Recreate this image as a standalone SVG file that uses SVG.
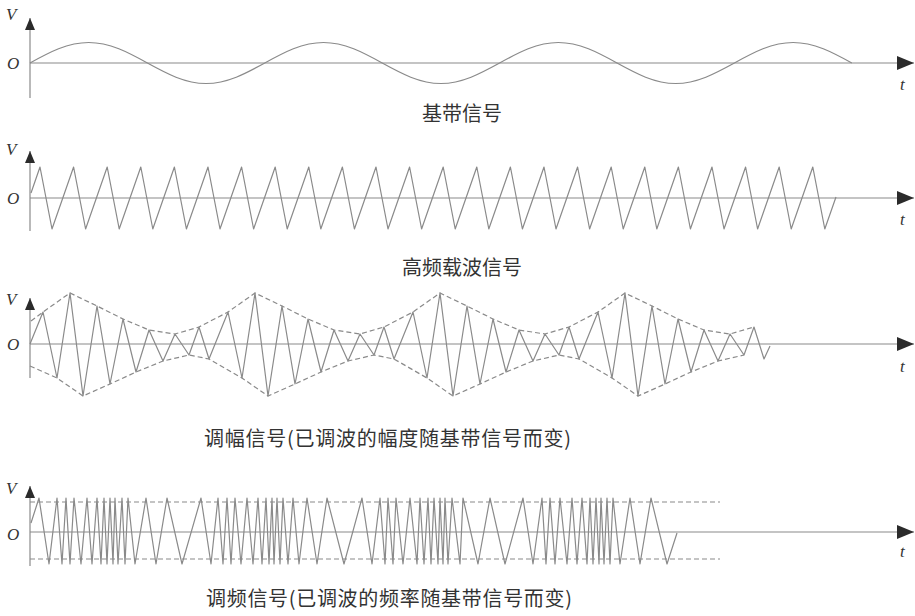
<svg xmlns="http://www.w3.org/2000/svg" width="915" height="616" viewBox="0 0 915 616">
<style>
.wave{fill:none;stroke:#8a8a8a;stroke-width:1.2;stroke-linejoin:round}
.axis{fill:none;stroke:#8a8a8a;stroke-width:1.2}
.env{fill:none;stroke:#8a8a8a;stroke-width:1.2;stroke-dasharray:5 3}
.lbl{font-family:"Liberation Serif",serif;font-style:italic;font-size:17px;fill:#333}
.cap{font-family:"Noto Sans CJK SC","Noto Sans CJK JP",sans-serif;font-size:20px;fill:#333}
</style>
<defs>
<marker id="arrowH" viewBox="0 0 17 14" markerWidth="17" markerHeight="14" refX="17" refY="7" orient="auto" markerUnits="userSpaceOnUse"><path d="M0,0 L17,7 L0,14 z" fill="#2b2b2b"/></marker>
<marker id="arrowV" viewBox="0 0 12 10" markerWidth="12" markerHeight="10" refX="12" refY="5" orient="auto" markerUnits="userSpaceOnUse"><path d="M0,0 L12,5 L0,10 z" fill="#2b2b2b"/></marker>
</defs>
<rect width="915" height="616" fill="#ffffff"/>

<g id="baseband">
<line class="axis" x1="30" y1="98" x2="30" y2="18" marker-end="url(#arrowV)"/>
<line class="axis" x1="30" y1="63" x2="914" y2="63" marker-end="url(#arrowH)"/>
<path class="wave" d="M30,63 c19.14,-10.5 37.46,-20.5 58.7,-20.5 c21.24,0 39.56,10 58.7,20.5 c19.14,10.5 37.46,20.5 58.7,20.5 c21.24,0 39.56,-10 58.7,-20.5 c19.14,-10.5 37.46,-20.5 58.7,-20.5 c21.24,0 39.56,10 58.7,20.5 c19.14,10.5 37.46,20.5 58.7,20.5 c21.24,0 39.56,-10 58.7,-20.5 c19.14,-10.5 37.46,-20.5 58.7,-20.5 c21.24,0 39.56,10 58.7,20.5 c19.14,10.5 37.46,20.5 58.7,20.5 c21.24,0 39.56,-10 58.7,-20.5 c19.14,-10.5 37.46,-20.5 58.7,-20.5 c21.24,0 39.56,10 58.7,20.5"/>
<text class="lbl" x="6" y="20">V</text>
<text class="lbl" x="7" y="69">O</text>
<text class="lbl" x="900" y="90">t</text>
<text class="cap" x="422" y="121">基带信号</text>
</g>

<g id="carrier">
<line class="axis" x1="30" y1="231" x2="30" y2="151" marker-end="url(#arrowV)"/>
<line class="axis" x1="30" y1="198" x2="914" y2="198" marker-end="url(#arrowH)"/>
<path class="wave" d="M31,193 L40,167 l12,62 l21.6,-62 l12,62 l21.6,-62 l12,62 l21.6,-62 l12,62 l21.6,-62 l12,62 l21.6,-62 l12,62 l21.6,-62 l12,62 l21.6,-62 l12,62 l21.6,-62 l12,62 l21.6,-62 l12,62 l21.6,-62 l12,62 l21.6,-62 l12,62 l21.6,-62 l12,62 l21.6,-62 l12,62 l21.6,-62 l12,62 l21.6,-62 l12,62 l21.6,-62 l12,62 l21.6,-62 l12,62 l21.6,-62 l12,62 l21.6,-62 l12,62 l21.6,-62 l12,62 l21.6,-62 l12,62 l21.6,-62 l12,62 l21.6,-62 l12,62 l11.2,-32"/>
<text class="lbl" x="6" y="155">V</text>
<text class="lbl" x="7" y="204">O</text>
<text class="lbl" x="900" y="225">t</text>
<text class="cap" x="402" y="275">高频载波信号</text>
</g>

<g id="am">
<line class="axis" x1="30" y1="378" x2="30" y2="298" marker-end="url(#arrowV)"/>
<line class="axis" x1="30" y1="344" x2="914" y2="344" marker-end="url(#arrowH)"/>
<polyline class="env" points="31,321 43,312 70,293 97,306 123,319 149,330 175,334 199,327 228,312 255,293 282,306 308,319 334,330 360,334 384,327 413,312 440,293 467,306 493,319 519,330 545,334 569,327 598,312 625,293 652,306 678,319 704,330 730,334 754,327"/>
<polyline class="env" points="30,366 57,378 83,396 110,384 136,372 163,361 189,355 209,359 242,378 268,396 295,384 321,372 348,361 374,355 394,359 427,378 453,396 480,384 506,372 533,361 559,355 579,359 612,378 638,396 665,384 691,372 718,361 744,355"/>
<polyline class="wave" points="30,344 43,312 57,378 70,293 83,396 97,306 110,384 123,319 136,372 149,330 163,361 175,334 189,355 199,327 209,359 228,312 242,378 255,293 268,396 282,306 295,384 308,319 321,372 334,330 348,361 360,334 374,355 384,327 394,359 413,312 427,378 440,293 453,396 467,306 480,384 493,319 506,372 519,330 533,361 545,334 559,355 569,327 579,359 598,312 612,378 625,293 638,396 652,306 665,384 678,319 691,372 704,330 718,361 730,334 744,355 754,327 764,359 770,346"/>
<text class="lbl" x="6" y="305">V</text>
<text class="lbl" x="7" y="350">O</text>
<text class="lbl" x="900" y="372">t</text>
<text class="cap" x="204" y="446" textLength="367" lengthAdjust="spacing">调幅信号(已调波的幅度随基带信号而变)</text>
</g>

<g id="fm">
<line class="axis" x1="30" y1="566" x2="30" y2="486" marker-end="url(#arrowV)"/>
<line class="axis" x1="30" y1="532" x2="914" y2="532" marker-end="url(#arrowH)"/>
<line class="env" x1="30" y1="502" x2="720" y2="502"/>
<line class="env" x1="30" y1="559" x2="720" y2="559"/>
<polyline class="wave" points="31,523 39,498 49,564 57,498 62,564 66,498 70,564 74,498 81,564 87,498 92,564 97,498 101,564 104,498 107,564 110,498 113,564 115,498 118,564 122,498 125,564 128,498 135,564 146,498 156,564 167,498 182,564 201,498 211,564 218,498 223,564 227,498 231,564 235,498 241,564 247,498 253,564 258,498 262,564 266,498 269,564 272,498 274,564 277,498 280,564 283,498 288,564 293,498 299,564 307,498 317,564 327,498 344,564 362,498 372,564 380,498 385,564 388,498 393,564 396,498 403,564 410,498 417,564 420,498 424,564 428,498 431,564 434,498 438,564 440,498 443,564 445,498 448,564 452,498 460,564 463,498 478,564 490,498 505,564 523,498 533,564 542,498 546,564 550,498 555,564 560,498 567,564 572,498 577,564 582,498 587,564 590,498 593,564 596,498 599,564 601,498 604,564 607,498 610,564 613,498 620,564 630,498 640,564 651,498 667,564 677,533"/>
<text class="lbl" x="6" y="494">V</text>
<text class="lbl" x="7" y="540">O</text>
<text class="lbl" x="900" y="557">t</text>
<text class="cap" x="206" y="606" textLength="366" lengthAdjust="spacing">调频信号(已调波的频率随基带信号而变)</text>
</g>
</svg>
